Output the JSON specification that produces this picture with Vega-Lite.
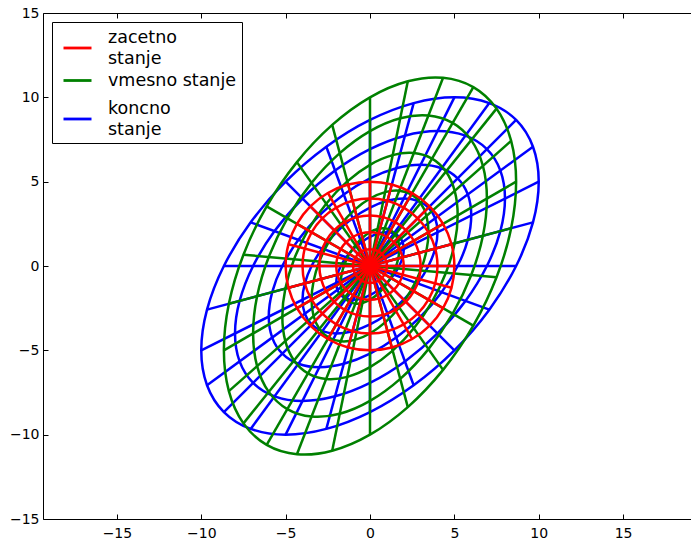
{
"$schema":"https://vega.github.io/schema/vega-lite/v6.json",
"width":654,"height":506,
"autosize":{"type":"none"},
"padding":{"left":43,"top":13,"right":0,"bottom":24},
"background":"white",
"config":{"view":{"stroke":null},"font":"DejaVu Sans",
"axis":{"grid":false,"domainColor":"black","domainWidth":1,"tickColor":"black","tickWidth":1,"tickSize":-5,"labelColor":"black","labelFontSize":14,"labelFont":"DejaVu Sans","title":null}},
"datasets":{"c":[
{"s":"z","r":1,"x":1,"y":0},{"s":"z","r":1,"x":0.966,"y":0.259},{"s":"z","r":1,"x":0.866,"y":0.5},{"s":"z","r":1,"x":0.707,"y":0.707},{"s":"z","r":1,"x":0.5,"y":0.866},{"s":"z","r":1,"x":0.259,"y":0.966},{"s":"z","r":1,"x":0,"y":1},{"s":"z","r":1,"x":-0.259,"y":0.966},{"s":"z","r":1,"x":-0.5,"y":0.866},{"s":"z","r":1,"x":-0.707,"y":0.707},{"s":"z","r":1,"x":-0.866,"y":0.5},{"s":"z","r":1,"x":-0.966,"y":0.259},{"s":"z","r":1,"x":-1,"y":0},{"s":"z","r":1,"x":-0.966,"y":-0.259},{"s":"z","r":1,"x":-0.866,"y":-0.5},{"s":"z","r":1,"x":-0.707,"y":-0.707},{"s":"z","r":1,"x":-0.5,"y":-0.866},{"s":"z","r":1,"x":-0.259,"y":-0.966},{"s":"z","r":1,"x":0,"y":-1},{"s":"z","r":1,"x":0.259,"y":-0.966},{"s":"z","r":1,"x":0.5,"y":-0.866},{"s":"z","r":1,"x":0.707,"y":-0.707},{"s":"z","r":1,"x":0.866,"y":-0.5},{"s":"z","r":1,"x":0.966,"y":-0.259},
{"s":"z","r":2,"x":2,"y":0},{"s":"z","r":2,"x":1.932,"y":0.518},{"s":"z","r":2,"x":1.732,"y":1},{"s":"z","r":2,"x":1.414,"y":1.414},{"s":"z","r":2,"x":1,"y":1.732},{"s":"z","r":2,"x":0.518,"y":1.932},{"s":"z","r":2,"x":0,"y":2},{"s":"z","r":2,"x":-0.518,"y":1.932},{"s":"z","r":2,"x":-1,"y":1.732},{"s":"z","r":2,"x":-1.414,"y":1.414},{"s":"z","r":2,"x":-1.732,"y":1},{"s":"z","r":2,"x":-1.932,"y":0.518},{"s":"z","r":2,"x":-2,"y":0},{"s":"z","r":2,"x":-1.932,"y":-0.518},{"s":"z","r":2,"x":-1.732,"y":-1},{"s":"z","r":2,"x":-1.414,"y":-1.414},{"s":"z","r":2,"x":-1,"y":-1.732},{"s":"z","r":2,"x":-0.518,"y":-1.932},{"s":"z","r":2,"x":0,"y":-2},{"s":"z","r":2,"x":0.518,"y":-1.932},{"s":"z","r":2,"x":1,"y":-1.732},{"s":"z","r":2,"x":1.414,"y":-1.414},{"s":"z","r":2,"x":1.732,"y":-1},{"s":"z","r":2,"x":1.932,"y":-0.518},
{"s":"z","r":3,"x":3,"y":0},{"s":"z","r":3,"x":2.898,"y":0.776},{"s":"z","r":3,"x":2.598,"y":1.5},{"s":"z","r":3,"x":2.121,"y":2.121},{"s":"z","r":3,"x":1.5,"y":2.598},{"s":"z","r":3,"x":0.776,"y":2.898},{"s":"z","r":3,"x":0,"y":3},{"s":"z","r":3,"x":-0.776,"y":2.898},{"s":"z","r":3,"x":-1.5,"y":2.598},{"s":"z","r":3,"x":-2.121,"y":2.121},{"s":"z","r":3,"x":-2.598,"y":1.5},{"s":"z","r":3,"x":-2.898,"y":0.776},{"s":"z","r":3,"x":-3,"y":0},{"s":"z","r":3,"x":-2.898,"y":-0.776},{"s":"z","r":3,"x":-2.598,"y":-1.5},{"s":"z","r":3,"x":-2.121,"y":-2.121},{"s":"z","r":3,"x":-1.5,"y":-2.598},{"s":"z","r":3,"x":-0.776,"y":-2.898},{"s":"z","r":3,"x":0,"y":-3},{"s":"z","r":3,"x":0.776,"y":-2.898},{"s":"z","r":3,"x":1.5,"y":-2.598},{"s":"z","r":3,"x":2.121,"y":-2.121},{"s":"z","r":3,"x":2.598,"y":-1.5},{"s":"z","r":3,"x":2.898,"y":-0.776},
{"s":"z","r":4,"x":4,"y":0},{"s":"z","r":4,"x":3.864,"y":1.035},{"s":"z","r":4,"x":3.464,"y":2},{"s":"z","r":4,"x":2.828,"y":2.828},{"s":"z","r":4,"x":2,"y":3.464},{"s":"z","r":4,"x":1.035,"y":3.864},{"s":"z","r":4,"x":0,"y":4},{"s":"z","r":4,"x":-1.035,"y":3.864},{"s":"z","r":4,"x":-2,"y":3.464},{"s":"z","r":4,"x":-2.828,"y":2.828},{"s":"z","r":4,"x":-3.464,"y":2},{"s":"z","r":4,"x":-3.864,"y":1.035},{"s":"z","r":4,"x":-4,"y":0},{"s":"z","r":4,"x":-3.864,"y":-1.035},{"s":"z","r":4,"x":-3.464,"y":-2},{"s":"z","r":4,"x":-2.828,"y":-2.828},{"s":"z","r":4,"x":-2,"y":-3.464},{"s":"z","r":4,"x":-1.035,"y":-3.864},{"s":"z","r":4,"x":0,"y":-4},{"s":"z","r":4,"x":1.035,"y":-3.864},{"s":"z","r":4,"x":2,"y":-3.464},{"s":"z","r":4,"x":2.828,"y":-2.828},{"s":"z","r":4,"x":3.464,"y":-2},{"s":"z","r":4,"x":3.864,"y":-1.035},
{"s":"z","r":5,"k":0,"x":5,"y":0},{"s":"z","r":5,"k":1,"x":4.83,"y":1.294},{"s":"z","r":5,"k":2,"x":4.33,"y":2.5},{"s":"z","r":5,"k":3,"x":3.536,"y":3.536},{"s":"z","r":5,"k":4,"x":2.5,"y":4.33},{"s":"z","r":5,"k":5,"x":1.294,"y":4.83},{"s":"z","r":5,"k":6,"x":0,"y":5},{"s":"z","r":5,"k":7,"x":-1.294,"y":4.83},{"s":"z","r":5,"k":8,"x":-2.5,"y":4.33},{"s":"z","r":5,"k":9,"x":-3.536,"y":3.536},{"s":"z","r":5,"k":10,"x":-4.33,"y":2.5},{"s":"z","r":5,"k":11,"x":-4.83,"y":1.294},{"s":"z","r":5,"k":0,"x":-5,"y":0},{"s":"z","r":5,"k":1,"x":-4.83,"y":-1.294},{"s":"z","r":5,"k":2,"x":-4.33,"y":-2.5},{"s":"z","r":5,"k":3,"x":-3.536,"y":-3.536},{"s":"z","r":5,"k":4,"x":-2.5,"y":-4.33},{"s":"z","r":5,"k":5,"x":-1.294,"y":-4.83},{"s":"z","r":5,"k":6,"x":0,"y":-5},{"s":"z","r":5,"k":7,"x":1.294,"y":-4.83},{"s":"z","r":5,"k":8,"x":2.5,"y":-4.33},{"s":"z","r":5,"k":9,"x":3.536,"y":-3.536},{"s":"z","r":5,"k":10,"x":4.33,"y":-2.5},{"s":"z","r":5,"k":11,"x":4.83,"y":-1.294},
{"s":"v","r":1,"x":1.732,"y":1},{"s":"v","r":1,"x":1.673,"y":1.484},{"s":"v","r":1,"x":1.5,"y":1.866},{"s":"v","r":1,"x":1.225,"y":2.121},{"s":"v","r":1,"x":0.866,"y":2.232},{"s":"v","r":1,"x":0.448,"y":2.191},{"s":"v","r":1,"x":0,"y":2},{"s":"v","r":1,"x":-0.448,"y":1.673},{"s":"v","r":1,"x":-0.866,"y":1.232},{"s":"v","r":1,"x":-1.225,"y":0.707},{"s":"v","r":1,"x":-1.5,"y":0.134},{"s":"v","r":1,"x":-1.673,"y":-0.448},{"s":"v","r":1,"x":-1.732,"y":-1},{"s":"v","r":1,"x":-1.673,"y":-1.484},{"s":"v","r":1,"x":-1.5,"y":-1.866},{"s":"v","r":1,"x":-1.225,"y":-2.121},{"s":"v","r":1,"x":-0.866,"y":-2.232},{"s":"v","r":1,"x":-0.448,"y":-2.191},{"s":"v","r":1,"x":0,"y":-2},{"s":"v","r":1,"x":0.448,"y":-1.673},{"s":"v","r":1,"x":0.866,"y":-1.232},{"s":"v","r":1,"x":1.225,"y":-0.707},{"s":"v","r":1,"x":1.5,"y":-0.134},{"s":"v","r":1,"x":1.673,"y":0.448},
{"s":"v","r":2,"x":3.464,"y":2},{"s":"v","r":2,"x":3.346,"y":2.967},{"s":"v","r":2,"x":3,"y":3.732},{"s":"v","r":2,"x":2.449,"y":4.243},{"s":"v","r":2,"x":1.732,"y":4.464},{"s":"v","r":2,"x":0.897,"y":4.381},{"s":"v","r":2,"x":0,"y":4},{"s":"v","r":2,"x":-0.897,"y":3.346},{"s":"v","r":2,"x":-1.732,"y":2.464},{"s":"v","r":2,"x":-2.449,"y":1.414},{"s":"v","r":2,"x":-3,"y":0.268},{"s":"v","r":2,"x":-3.346,"y":-0.897},{"s":"v","r":2,"x":-3.464,"y":-2},{"s":"v","r":2,"x":-3.346,"y":-2.967},{"s":"v","r":2,"x":-3,"y":-3.732},{"s":"v","r":2,"x":-2.449,"y":-4.243},{"s":"v","r":2,"x":-1.732,"y":-4.464},{"s":"v","r":2,"x":-0.897,"y":-4.381},{"s":"v","r":2,"x":0,"y":-4},{"s":"v","r":2,"x":0.897,"y":-3.346},{"s":"v","r":2,"x":1.732,"y":-2.464},{"s":"v","r":2,"x":2.449,"y":-1.414},{"s":"v","r":2,"x":3,"y":-0.268},{"s":"v","r":2,"x":3.346,"y":0.897},
{"s":"v","r":3,"x":5.196,"y":3},{"s":"v","r":3,"x":5.019,"y":4.451},{"s":"v","r":3,"x":4.5,"y":5.598},{"s":"v","r":3,"x":3.674,"y":6.364},{"s":"v","r":3,"x":2.598,"y":6.696},{"s":"v","r":3,"x":1.345,"y":6.572},{"s":"v","r":3,"x":0,"y":6},{"s":"v","r":3,"x":-1.345,"y":5.019},{"s":"v","r":3,"x":-2.598,"y":3.696},{"s":"v","r":3,"x":-3.674,"y":2.121},{"s":"v","r":3,"x":-4.5,"y":0.402},{"s":"v","r":3,"x":-5.019,"y":-1.345},{"s":"v","r":3,"x":-5.196,"y":-3},{"s":"v","r":3,"x":-5.019,"y":-4.451},{"s":"v","r":3,"x":-4.5,"y":-5.598},{"s":"v","r":3,"x":-3.674,"y":-6.364},{"s":"v","r":3,"x":-2.598,"y":-6.696},{"s":"v","r":3,"x":-1.345,"y":-6.572},{"s":"v","r":3,"x":0,"y":-6},{"s":"v","r":3,"x":1.345,"y":-5.019},{"s":"v","r":3,"x":2.598,"y":-3.696},{"s":"v","r":3,"x":3.674,"y":-2.121},{"s":"v","r":3,"x":4.5,"y":-0.402},{"s":"v","r":3,"x":5.019,"y":1.345},
{"s":"v","r":4,"x":6.928,"y":4},{"s":"v","r":4,"x":6.692,"y":5.934},{"s":"v","r":4,"x":6,"y":7.464},{"s":"v","r":4,"x":4.899,"y":8.485},{"s":"v","r":4,"x":3.464,"y":8.928},{"s":"v","r":4,"x":1.793,"y":8.763},{"s":"v","r":4,"x":0,"y":8},{"s":"v","r":4,"x":-1.793,"y":6.692},{"s":"v","r":4,"x":-3.464,"y":4.928},{"s":"v","r":4,"x":-4.899,"y":2.828},{"s":"v","r":4,"x":-6,"y":0.536},{"s":"v","r":4,"x":-6.692,"y":-1.793},{"s":"v","r":4,"x":-6.928,"y":-4},{"s":"v","r":4,"x":-6.692,"y":-5.934},{"s":"v","r":4,"x":-6,"y":-7.464},{"s":"v","r":4,"x":-4.899,"y":-8.485},{"s":"v","r":4,"x":-3.464,"y":-8.928},{"s":"v","r":4,"x":-1.793,"y":-8.763},{"s":"v","r":4,"x":0,"y":-8},{"s":"v","r":4,"x":1.793,"y":-6.692},{"s":"v","r":4,"x":3.464,"y":-4.928},{"s":"v","r":4,"x":4.899,"y":-2.828},{"s":"v","r":4,"x":6,"y":-0.536},{"s":"v","r":4,"x":6.692,"y":1.793},
{"s":"v","r":5,"k":0,"x":8.66,"y":5},{"s":"v","r":5,"k":1,"x":8.365,"y":7.418},{"s":"v","r":5,"k":2,"x":7.5,"y":9.33},{"s":"v","r":5,"k":3,"x":6.124,"y":10.607},{"s":"v","r":5,"k":4,"x":4.33,"y":11.16},{"s":"v","r":5,"k":5,"x":2.241,"y":10.953},{"s":"v","r":5,"k":6,"x":0,"y":10},{"s":"v","r":5,"k":7,"x":-2.241,"y":8.365},{"s":"v","r":5,"k":8,"x":-4.33,"y":6.16},{"s":"v","r":5,"k":9,"x":-6.124,"y":3.536},{"s":"v","r":5,"k":10,"x":-7.5,"y":0.67},{"s":"v","r":5,"k":11,"x":-8.365,"y":-2.241},{"s":"v","r":5,"k":0,"x":-8.66,"y":-5},{"s":"v","r":5,"k":1,"x":-8.365,"y":-7.418},{"s":"v","r":5,"k":2,"x":-7.5,"y":-9.33},{"s":"v","r":5,"k":3,"x":-6.124,"y":-10.607},{"s":"v","r":5,"k":4,"x":-4.33,"y":-11.16},{"s":"v","r":5,"k":5,"x":-2.241,"y":-10.953},{"s":"v","r":5,"k":6,"x":0,"y":-10},{"s":"v","r":5,"k":7,"x":2.241,"y":-8.365},{"s":"v","r":5,"k":8,"x":4.33,"y":-6.16},{"s":"v","r":5,"k":9,"x":6.124,"y":-3.536},{"s":"v","r":5,"k":10,"x":7.5,"y":-0.67},{"s":"v","r":5,"k":11,"x":8.365,"y":2.241},
{"s":"k","r":1,"x":2,"y":1},{"s":"k","r":1,"x":1.932,"y":1.414},{"s":"k","r":1,"x":1.732,"y":1.732},{"s":"k","r":1,"x":1.414,"y":1.932},{"s":"k","r":1,"x":1,"y":2},{"s":"k","r":1,"x":0.518,"y":1.932},{"s":"k","r":1,"x":0,"y":1.732},{"s":"k","r":1,"x":-0.518,"y":1.414},{"s":"k","r":1,"x":-1,"y":1},{"s":"k","r":1,"x":-1.414,"y":0.518},{"s":"k","r":1,"x":-1.732,"y":0},{"s":"k","r":1,"x":-1.932,"y":-0.518},{"s":"k","r":1,"x":-2,"y":-1},{"s":"k","r":1,"x":-1.932,"y":-1.414},{"s":"k","r":1,"x":-1.732,"y":-1.732},{"s":"k","r":1,"x":-1.414,"y":-1.932},{"s":"k","r":1,"x":-1,"y":-2},{"s":"k","r":1,"x":-0.518,"y":-1.932},{"s":"k","r":1,"x":0,"y":-1.732},{"s":"k","r":1,"x":0.518,"y":-1.414},{"s":"k","r":1,"x":1,"y":-1},{"s":"k","r":1,"x":1.414,"y":-0.518},{"s":"k","r":1,"x":1.732,"y":0},{"s":"k","r":1,"x":1.932,"y":0.518},
{"s":"k","r":2,"x":4,"y":2},{"s":"k","r":2,"x":3.864,"y":2.828},{"s":"k","r":2,"x":3.464,"y":3.464},{"s":"k","r":2,"x":2.828,"y":3.864},{"s":"k","r":2,"x":2,"y":4},{"s":"k","r":2,"x":1.035,"y":3.864},{"s":"k","r":2,"x":0,"y":3.464},{"s":"k","r":2,"x":-1.035,"y":2.828},{"s":"k","r":2,"x":-2,"y":2},{"s":"k","r":2,"x":-2.828,"y":1.035},{"s":"k","r":2,"x":-3.464,"y":0},{"s":"k","r":2,"x":-3.864,"y":-1.035},{"s":"k","r":2,"x":-4,"y":-2},{"s":"k","r":2,"x":-3.864,"y":-2.828},{"s":"k","r":2,"x":-3.464,"y":-3.464},{"s":"k","r":2,"x":-2.828,"y":-3.864},{"s":"k","r":2,"x":-2,"y":-4},{"s":"k","r":2,"x":-1.035,"y":-3.864},{"s":"k","r":2,"x":0,"y":-3.464},{"s":"k","r":2,"x":1.035,"y":-2.828},{"s":"k","r":2,"x":2,"y":-2},{"s":"k","r":2,"x":2.828,"y":-1.035},{"s":"k","r":2,"x":3.464,"y":0},{"s":"k","r":2,"x":3.864,"y":1.035},
{"s":"k","r":3,"x":6,"y":3},{"s":"k","r":3,"x":5.796,"y":4.243},{"s":"k","r":3,"x":5.196,"y":5.196},{"s":"k","r":3,"x":4.243,"y":5.796},{"s":"k","r":3,"x":3,"y":6},{"s":"k","r":3,"x":1.553,"y":5.796},{"s":"k","r":3,"x":0,"y":5.196},{"s":"k","r":3,"x":-1.553,"y":4.243},{"s":"k","r":3,"x":-3,"y":3},{"s":"k","r":3,"x":-4.243,"y":1.553},{"s":"k","r":3,"x":-5.196,"y":0},{"s":"k","r":3,"x":-5.796,"y":-1.553},{"s":"k","r":3,"x":-6,"y":-3},{"s":"k","r":3,"x":-5.796,"y":-4.243},{"s":"k","r":3,"x":-5.196,"y":-5.196},{"s":"k","r":3,"x":-4.243,"y":-5.796},{"s":"k","r":3,"x":-3,"y":-6},{"s":"k","r":3,"x":-1.553,"y":-5.796},{"s":"k","r":3,"x":0,"y":-5.196},{"s":"k","r":3,"x":1.553,"y":-4.243},{"s":"k","r":3,"x":3,"y":-3},{"s":"k","r":3,"x":4.243,"y":-1.553},{"s":"k","r":3,"x":5.196,"y":0},{"s":"k","r":3,"x":5.796,"y":1.553},
{"s":"k","r":4,"x":8,"y":4},{"s":"k","r":4,"x":7.727,"y":5.657},{"s":"k","r":4,"x":6.928,"y":6.928},{"s":"k","r":4,"x":5.657,"y":7.727},{"s":"k","r":4,"x":4,"y":8},{"s":"k","r":4,"x":2.071,"y":7.727},{"s":"k","r":4,"x":0,"y":6.928},{"s":"k","r":4,"x":-2.071,"y":5.657},{"s":"k","r":4,"x":-4,"y":4},{"s":"k","r":4,"x":-5.657,"y":2.071},{"s":"k","r":4,"x":-6.928,"y":0},{"s":"k","r":4,"x":-7.727,"y":-2.071},{"s":"k","r":4,"x":-8,"y":-4},{"s":"k","r":4,"x":-7.727,"y":-5.657},{"s":"k","r":4,"x":-6.928,"y":-6.928},{"s":"k","r":4,"x":-5.657,"y":-7.727},{"s":"k","r":4,"x":-4,"y":-8},{"s":"k","r":4,"x":-2.071,"y":-7.727},{"s":"k","r":4,"x":0,"y":-6.928},{"s":"k","r":4,"x":2.071,"y":-5.657},{"s":"k","r":4,"x":4,"y":-4},{"s":"k","r":4,"x":5.657,"y":-2.071},{"s":"k","r":4,"x":6.928,"y":0},{"s":"k","r":4,"x":7.727,"y":2.071},
{"s":"k","r":5,"k":0,"x":10,"y":5},{"s":"k","r":5,"k":1,"x":9.659,"y":7.071},{"s":"k","r":5,"k":2,"x":8.66,"y":8.66},{"s":"k","r":5,"k":3,"x":7.071,"y":9.659},{"s":"k","r":5,"k":4,"x":5,"y":10},{"s":"k","r":5,"k":5,"x":2.588,"y":9.659},{"s":"k","r":5,"k":6,"x":0,"y":8.66},{"s":"k","r":5,"k":7,"x":-2.588,"y":7.071},{"s":"k","r":5,"k":8,"x":-5,"y":5},{"s":"k","r":5,"k":9,"x":-7.071,"y":2.588},{"s":"k","r":5,"k":10,"x":-8.66,"y":0},{"s":"k","r":5,"k":11,"x":-9.659,"y":-2.588},{"s":"k","r":5,"k":0,"x":-10,"y":-5},{"s":"k","r":5,"k":1,"x":-9.659,"y":-7.071},{"s":"k","r":5,"k":2,"x":-8.66,"y":-8.66},{"s":"k","r":5,"k":3,"x":-7.071,"y":-9.659},{"s":"k","r":5,"k":4,"x":-5,"y":-10},{"s":"k","r":5,"k":5,"x":-2.588,"y":-9.659},{"s":"k","r":5,"k":6,"x":0,"y":-8.66},{"s":"k","r":5,"k":7,"x":2.588,"y":-7.071},{"s":"k","r":5,"k":8,"x":5,"y":-5},{"s":"k","r":5,"k":9,"x":7.071,"y":-2.588},{"s":"k","r":5,"k":10,"x":8.66,"y":0},{"s":"k","r":5,"k":11,"x":9.659,"y":2.588}
]},
"data":{"name":"c"},
"encoding":{
"color":{"field":"s","type":"nominal","scale":{"domain":["z","v","k"],"range":["#ff0000","#008000","#0000ff"]},
"legend":{"orient":"none","legendX":9,"legendY":9,"title":null,"symbolType":"stroke","symbolSize":784,"symbolStrokeWidth":2.8,"labelFontSize":17.5,"labelFont":"DejaVu Sans","labelColor":"black","labelOffset":15,"padding":5,"symbolOffset":5,"rowPadding":3,"strokeColor":"black","fillColor":"white","cornerRadius":0,"labelLimit":0,
"labelExpr":"datum.value == 'z' ? ['zacetno','stanje'] : datum.value == 'v' ? 'vmesno stanje' : ['koncno','stanje']",
"encode":{"labels":{"update":{"lineHeight":{"value":21},"y":{"signal":"datum.value == 'k' ? 16.5 : 10.5"}}},"symbols":{"update":{"y":{"signal":"datum.value == 'v' ? 10.5 : datum.value == 'k' ? 27 : 21"}}}}}},
"order":{"value":null}
},
"layer":[
{"transform":[{"filter":"datum.s == 'k'"}],
"mark":{"type":"line","interpolate":"cardinal-closed","strokeWidth":2.5},
"encoding":{
"x":{"field":"x","type":"quantitative","scale":{"domain":[-19.38,19.38],"nice":false,"zero":false},"axis":{"orient":"bottom","values":[-15,-10,-5,0,5,10,15],"labelPadding":12,"labelFlush":false}},
"y":{"field":"y","type":"quantitative","scale":{"domain":[-15,15],"nice":false,"zero":false},"axis":{"orient":"left","values":[-15,-10,-5,0,5,10,15],"labelPadding":9,"labelFlush":false}},
"detail":{"field":"r"}}},
{"transform":[{"filter":"datum.s == 'k' && isValid(datum.k)"}],
"mark":{"type":"line","strokeWidth":2.5},
"encoding":{
"x":{"field":"x","type":"quantitative","axis":{"orient":"top","values":[-15,-10,-5,0,5,10,15],"labels":false}},
"y":{"field":"y","type":"quantitative","axis":{"orient":"right","values":[-15,-10,-5,0,5,10,15],"labels":false}},
"detail":{"field":"k"}}},
{"transform":[{"filter":"datum.s == 'v'"}],
"mark":{"type":"line","interpolate":"cardinal-closed","strokeWidth":2.5},
"encoding":{"x":{"field":"x","type":"quantitative","axis":null},"y":{"field":"y","type":"quantitative","axis":null},"detail":{"field":"r"}}},
{"transform":[{"filter":"datum.s == 'v' && isValid(datum.k)"}],
"mark":{"type":"line","strokeWidth":2.5},
"encoding":{"x":{"field":"x","type":"quantitative","axis":null},"y":{"field":"y","type":"quantitative","axis":null},"detail":{"field":"k"}}},
{"transform":[{"filter":"datum.s == 'z'"}],
"mark":{"type":"line","interpolate":"cardinal-closed","strokeWidth":2.5},
"encoding":{"x":{"field":"x","type":"quantitative","axis":null},"y":{"field":"y","type":"quantitative","axis":null},"detail":{"field":"r"}}},
{"transform":[{"filter":"datum.s == 'z' && isValid(datum.k)"}],
"mark":{"type":"line","strokeWidth":2.5},
"encoding":{"x":{"field":"x","type":"quantitative","axis":null},"y":{"field":"y","type":"quantitative","axis":null},"detail":{"field":"k"}}}
],
"resolve":{"axis":{"x":"independent","y":"independent"}}
}
